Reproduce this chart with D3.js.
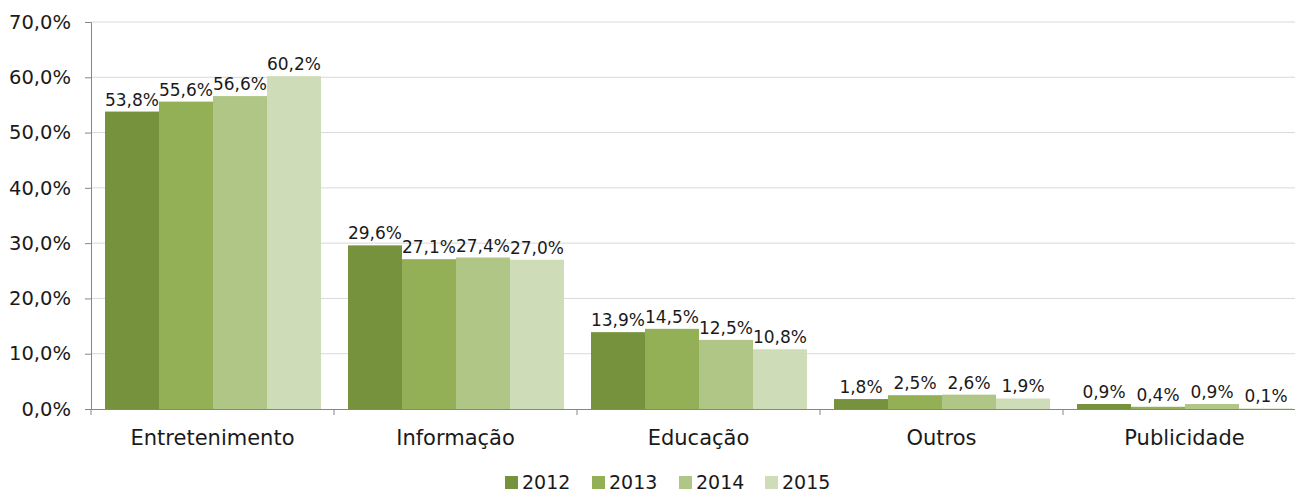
<!DOCTYPE html>
<html>
<head>
<meta charset="utf-8">
<script src="https://cdn.jsdelivr.net/npm/d3@7"></script>
<style>
  body { margin: 0; background: #fff; }
  svg text { font-family: "DejaVu Sans", sans-serif; fill: #1a1a1a; }
</style>
</head>
<body>
<div id="chart"></div>
<script>
// data
const categories = ["Entretenimento", "Informação", "Educação", "Outros", "Publicidade"];
const years = ["2012", "2013", "2014", "2015"];
const v2012 = [53.8, 29.6, 13.9, 1.8, 0.9];
const v2013 = [55.6, 27.1, 14.5, 2.5, 0.4];
const v2014 = [56.6, 27.4, 12.5, 2.6, 0.9];
const v2015 = [60.2, 27.0, 10.8, 1.9, 0.1];
const yTicks = [0, 10, 20, 30, 40, 50, 60, 70];
const colors = ["#77923c", "#93b056", "#afc686", "#cfdcb8"];

const series = [v2012, v2013, v2014, v2015];
const W = 1295, H = 493;
const plot = {left: 91, right: 1306, top: 22, bottom: 409};

const fmt = v => v.toFixed(1).replace(".", ",") + "%";

var svg = d3.select("#chart").append("svg")
    .attr("width", W).attr("height", H);

const x = d3.scaleBand().domain(categories).range([plot.left, plot.right]);
const xi = d3.scaleBand().domain(years).range([14, x.bandwidth() - 13]);
const y = d3.scaleLinear().domain([0, 70]).range([plot.bottom, plot.top]);

// gridlines
svg.append("g").selectAll("line")
    .data(yTicks.filter(d => d > 0))
    .enter().append("line")
    .attr("x1", plot.left).attr("x2", W)
    .attr("y1", d => y(d)).attr("y2", d => y(d))
    .attr("stroke", "#d9d9d9").attr("stroke-width", 1);

// bars
const groups = svg.append("g").selectAll("g")
    .data(categories)
    .enter().append("g")
    .attr("transform", d => "translate(" + x(d) + ",0)");

groups.each(function (cat, ci) {
    const g = d3.select(this);
    years.forEach((yr, si) => {
        const v = series[si][ci];
        g.append("rect")
            .attr("x", xi(yr))
            .attr("width", xi.bandwidth())
            .attr("y", y(v))
            .attr("height", y(0) - y(v))
            .attr("fill", colors[si]);
        g.append("text")
            .attr("x", xi(yr) + xi.bandwidth() / 2)
            .attr("y", y(v) - 6)
            .attr("text-anchor", "middle")
            .style("font-size", "17px")
            .text(fmt(v));
    });
});

// y axis
const yAxis = d3.axisLeft(y).tickValues(yTicks).tickSize(6).tickFormat(fmt);
const gy = svg.append("g").attr("transform", "translate(" + plot.left + ",0)").call(yAxis);
gy.select(".domain").attr("stroke", "#868686");
gy.selectAll(".tick line").attr("stroke", "#868686");
gy.selectAll(".tick text").attr("x", -20).style("font-size", "19.5px").style("fill", "#1a1a1a");

// x axis
const xAxis = d3.axisBottom(x).tickSize(0).tickSizeOuter(0);
const gx = svg.append("g").attr("transform", "translate(0," + plot.bottom + ")").call(xAxis);
gx.select(".domain").attr("stroke", "#868686");
gx.selectAll(".tick text").attr("y", 21).attr("dy", "0.71em").style("font-size", "21px").style("fill", "#1a1a1a");
// category separators
svg.append("g").selectAll("line")
    .data(categories)
    .enter().append("line")
    .attr("x1", d => x(d)).attr("x2", d => x(d))
    .attr("y1", plot.bottom).attr("y2", plot.bottom + 6)
    .attr("stroke", "#868686");

// legend
const legendX = [505, 592, 679, 765];
const legend = svg.append("g").selectAll("g")
    .data(years)
    .enter().append("g")
    .attr("transform", (d, i) => "translate(" + legendX[i] + ",476)");
legend.append("rect")
    .attr("width", 13).attr("height", 13)
    .attr("fill", (d, i) => colors[i]);
legend.append("text")
    .attr("x", 17).attr("y", 13)
    .style("font-size", "19px")
    .text(d => d);
</script>
</body>
</html>
